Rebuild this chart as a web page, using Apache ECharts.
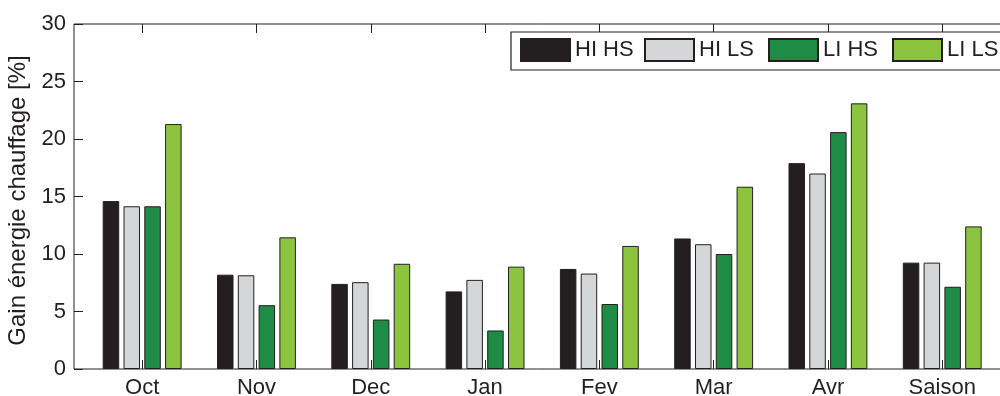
<!DOCTYPE html>
<html>
<head>
<meta charset="utf-8">
<script src="https://cdn.jsdelivr.net/npm/echarts@6/dist/echarts.min.js"></script>
<style>
html,body{margin:0;padding:0;background:#fff;}
#chart{width:1000px;height:396px;}
</style>
</head>
<body>
<div id="chart"></div>
<script>
const categories = ['Oct', 'Nov', 'Dec', 'Jan', 'Fev', 'Mar', 'Avr', 'Saison'];
const seriesNames = ['HI HS', 'HI LS', 'LI HS', 'LI LS'];
const hiHS = [14.6, 8.2, 7.4, 6.75, 8.7, 11.35, 17.9, 9.25];
const hiLS = [14.15, 8.15, 7.55, 7.75, 8.3, 10.85, 17.0, 9.25];
const liHS = [14.15, 5.55, 4.3, 3.35, 5.65, 10.0, 20.6, 7.15];
const liLS = [21.3, 11.45, 9.15, 8.9, 10.7, 15.85, 23.1, 12.4];
const yTicks = [0, 5, 10, 15, 20, 25, 30];
const yTitle = 'Gain énergie chauffage [%]';

const colors = ['#231f20', '#d5d6d8', '#1e8c45', '#8cc43f'];
const seriesData = [hiHS, hiLS, liHS, liLS];
const FONT = 'Liberation Sans, Arial, sans-serif';
const TXT = '#231f20';

const chart = echarts.init(document.getElementById('chart'), null, {renderer: 'canvas'});
const option = {
  animation: false,
  backgroundColor: '#fff',
  textStyle: {fontFamily: FONT, color: TXT},
  grid: [
    {left: 74, right: -11, top: 24, bottom: 27, outerBoundsMode: 'none', containLabel: false,
     show: true, borderColor: TXT, borderWidth: 1, backgroundColor: 'transparent'},
    {left: 85, right: 0.6, top: 24, bottom: 27, outerBoundsMode: 'none', containLabel: false}
  ],
  xAxis: [
    {gridIndex: 0, type: 'value', min: 0, max: 1, show: false},
    {gridIndex: 1, type: 'category', data: categories, position: 'bottom',
     axisLine: {show: false},
     axisTick: {show: true, inside: true, length: 9, alignWithLabel: true, lineStyle: {color: TXT, width: 1}},
     axisLabel: {fontSize: 22, color: TXT, fontFamily: FONT, margin: 8}},
    {gridIndex: 1, type: 'category', data: categories, position: 'top',
     axisLine: {show: false},
     axisTick: {show: true, inside: true, length: 9, alignWithLabel: true, lineStyle: {color: TXT, width: 1}},
     axisLabel: {show: false}}
  ],
  yAxis: [
    {gridIndex: 0, type: 'value', min: yTicks[0], max: yTicks[yTicks.length - 1], interval: 5,
     name: yTitle, nameLocation: 'middle', nameGap: 40,
     nameTextStyle: {fontSize: 24, color: TXT, fontFamily: FONT, padding: [0, 8, 0, 0]},
     axisLine: {show: false},
     axisTick: {show: true, inside: true, length: 9, lineStyle: {color: TXT, width: 1}},
     axisLabel: {fontSize: 22, color: TXT, fontFamily: FONT, margin: 8},
     splitLine: {show: false}},
    {gridIndex: 1, type: 'value', min: yTicks[0], max: yTicks[yTicks.length - 1], interval: 5, show: false, splitLine: {show: false}}
  ],
  legend: {
    data: seriesNames,
    left: 511, top: 32, width: 520,
    orient: 'horizontal',
    padding: [6, 30, 8, 9],
    itemWidth: 49, itemHeight: 22, itemGap: 5,
    icon: 'rect',
    borderColor: TXT, borderWidth: 1.2, backgroundColor: '#fff',
    textStyle: {fontSize: 22, color: TXT, fontFamily: FONT, width: 64, lineHeight: 22}
  },
  series: seriesNames.map((n, i) => ({
    name: n,
    type: 'bar',
    xAxisIndex: 1,
    yAxisIndex: 1,
    data: seriesData[i],
    barWidth: 16.5,
    barGap: '26%',
    itemStyle: {color: colors[i], borderColor: TXT, borderWidth: 1}
  }))
};
chart.setOption(option);
</script>
</body>
</html>
